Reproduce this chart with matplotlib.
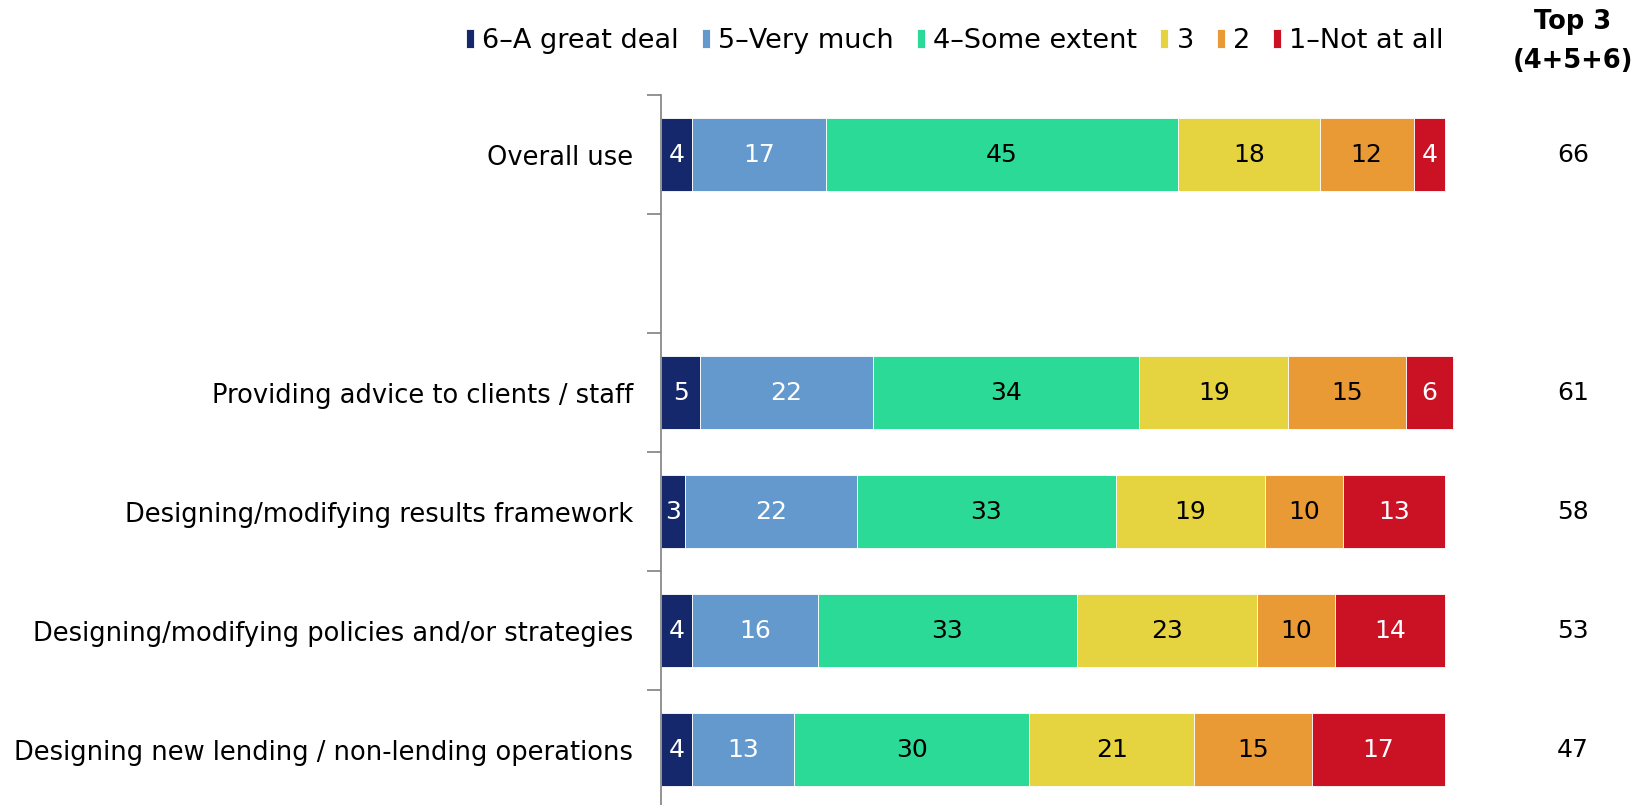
import matplotlib.pyplot as plt
import numpy as np

categories = [
    "Overall use",
    "",
    "Providing advice to clients / staff",
    "Designing/modifying results framework",
    "Designing/modifying policies and/or strategies",
    "Designing new lending / non-lending operations",
]
series_names = ["6\u2013A great deal", "5\u2013Very much", "4\u2013Some extent", "3", "2", "1\u2013Not at all"]
great_deal = [4, None, 5, 3, 4, 4]
very_much = [17, None, 22, 22, 16, 13]
some_extent = [45, None, 34, 33, 33, 30]
three = [18, None, 19, 19, 23, 21]
two = [12, None, 15, 10, 10, 15]
not_at_all = [4, None, 6, 13, 14, 17]
top3 = [66, None, 61, 58, 53, 47]

COLORS = ["#15286B", "#6399CD", "#2BDA96", "#E5D43F", "#E99A35", "#CB1124"]
TEXT_COLORS = ["white", "white", "black", "black", "black", "white"]

plt.rcParams["font.family"] = ["DejaVu Sans"]

fig = plt.figure(figsize=(16.41, 8.05), dpi=100)
W, H = 1641, 805
ax_left, ax_right = 661, 1445
ax_top, ax_bottom = 95, 809
ax = fig.add_axes([ax_left / W, 1 - ax_bottom / H, (ax_right - ax_left) / W, (ax_bottom - ax_top) / H])

series = [great_deal, very_much, some_extent, three, two, not_at_all]
rows = [i for i, c in enumerate(categories) if c]
left = np.zeros(len(categories))
for name, vals, color, tcol in zip(series_names, series, COLORS, TEXT_COLORS):
    v = np.array([x if x is not None else 0 for x in vals], dtype=float)
    ax.barh(rows, v[rows], left=left[rows], height=0.62, color=color,
            edgecolor="white", linewidth=0.6, label=name, clip_on=False)
    for r in rows:
        ax.text(left[r] + v[r] / 2, r, f"{int(v[r])}", ha="center", va="center",
                color=tcol, fontsize=18)
    left += v

ax.set_xlim(0, 100)
ax.set_ylim(len(categories) - 0.5, -0.5)
ax.set_xticks([])
ax.set_yticks(np.arange(-0.5, len(categories)))
ax.set_yticklabels([])
ax.set_yticks(range(len(categories)), minor=True)
ax.set_yticklabels(categories, minor=True, fontsize=18.5)
ax.tick_params(axis="y", which="major", length=10, color="#808080", width=1.2)
ax.tick_params(axis="y", which="minor", length=0, pad=20)
for s in ["top", "right", "bottom"]:
    ax.spines[s].set_visible(False)
ax.spines["left"].set_color("#808080")
ax.spines["left"].set_linewidth(1.2)

# top 3 column
for r in rows:
    ax.annotate(f"{top3[r]}", xy=(1573 / W, r), xycoords=("figure fraction", "data"),
                ha="center", va="center", fontsize=18, annotation_clip=False)
fig.text(1573 / W, 1 - 22 / H, "Top 3", ha="center", va="center", fontsize=18.5, fontweight="bold")
fig.text(1573 / W, 1 - 61 / H, "(4+5+6)", ha="center", va="center", fontsize=18.5, fontweight="bold")

fig.legend(loc="center", bbox_to_anchor=(955 / W, 1 - 41 / H), ncol=6, frameon=False,
           fontsize=19.5, handlelength=0.3, handleheight=0.7, handletextpad=0.3,
           columnspacing=0.85, borderaxespad=0)

fig.savefig("out.png", dpi=100)
